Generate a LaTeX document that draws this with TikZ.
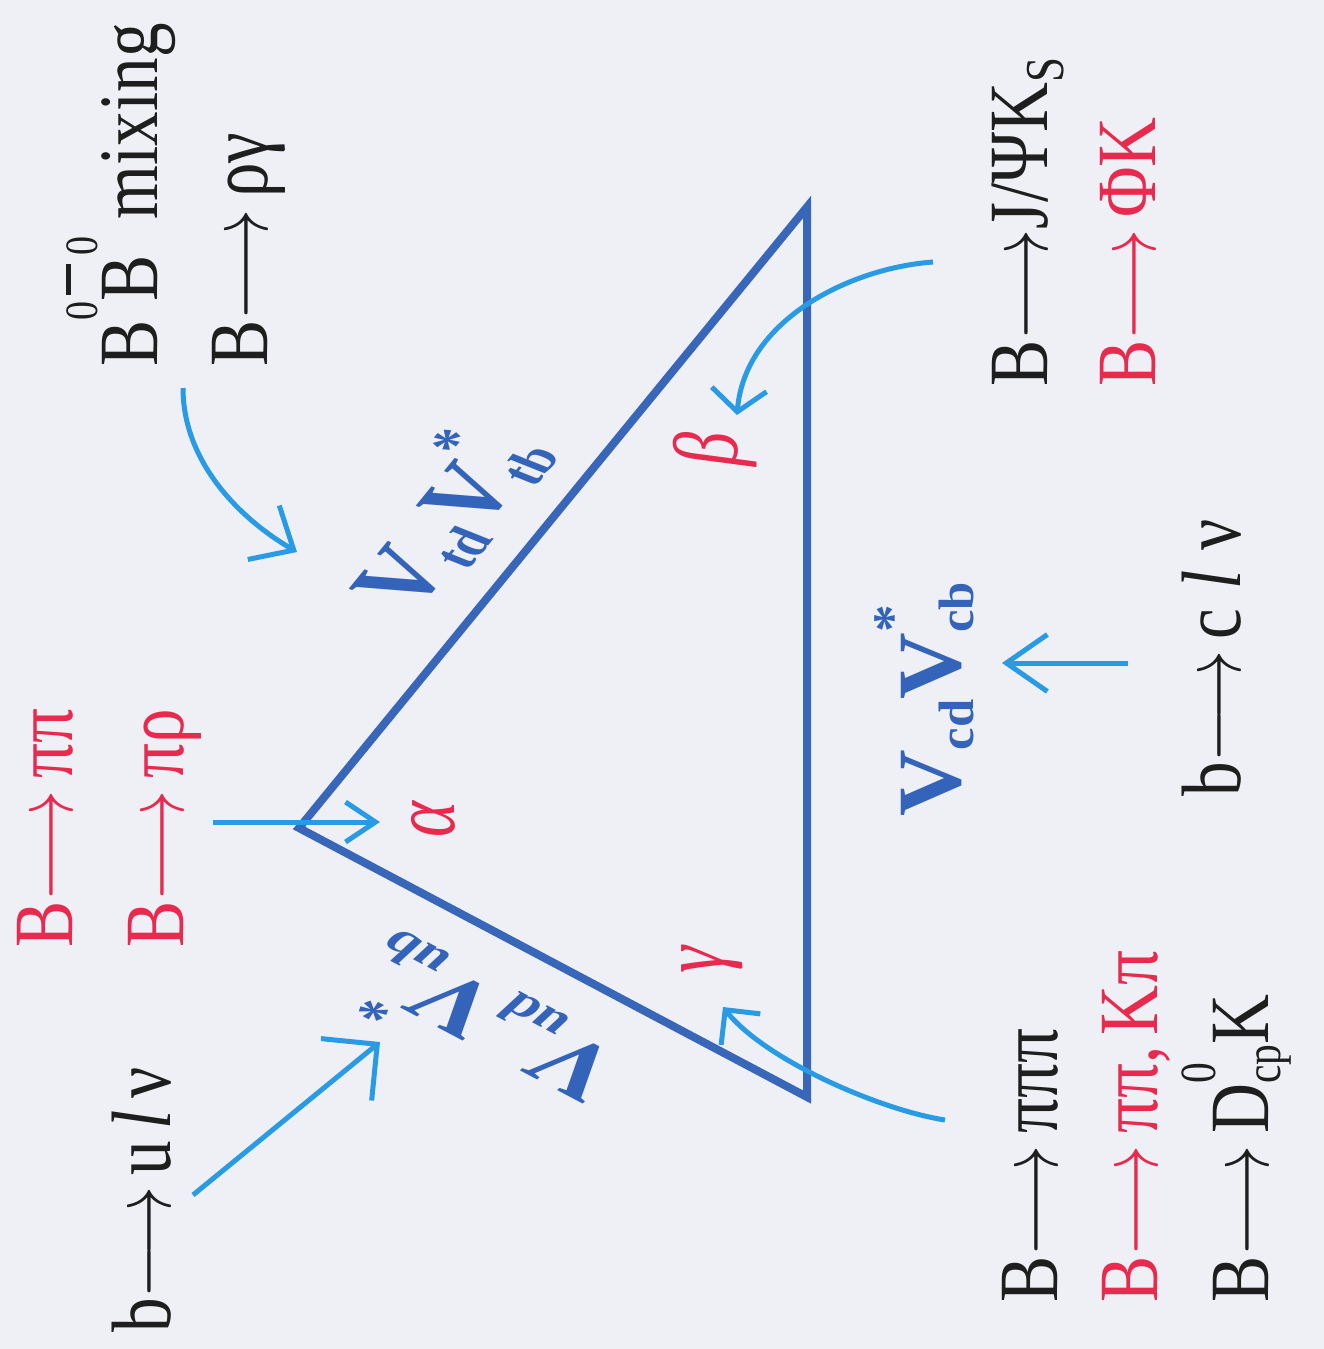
\RequirePackage{fix-cm}
\documentclass[tikz,border=0pt]{standalone}
\usepackage{fontspec}
\setmainfont{Liberation Serif}
\usetikzlibrary{arrows.meta}
\definecolor{bgc}{RGB}{238,240,246}
\definecolor{tri}{RGB}{56,102,184}
\definecolor{arr}{RGB}{40,155,228}
\definecolor{rd}{RGB}{232,42,78}
\definecolor{vb}{RGB}{52,100,185}
\definecolor{ink}{RGB}{30,30,30}
\makeatletter
\newcommand\rs[1]{\fontsize{\fpeval{#1*\f@size}}{\fpeval{#1*\f@size}}\selectfont}
\makeatother
\newcommand\dec{\ensuremath{\longrightarrow}}
\begin{document}
\begin{tikzpicture}[x=0.02cm,y=-0.02cm,
  vt/.style={inner sep=0pt, anchor=base west, yscale=0.82, rotate=90, font=\fontsize{48}{52}\selectfont, text=ink},
  rtxt/.style={text=rd},
  ang/.style={inner sep=0pt, anchor=center, yscale=0.75, rotate=90, font=\fontsize{52}{56}\selectfont\itshape, text=rd},
  vlab/.style={inner sep=0pt, text=vb, font=\fontsize{64}{68}\selectfont\bfseries},
  arw/.style={draw=arr, line width=0.1cm},
  trim/.style={draw=tri, line width=0.16cm, line join=miter}
]
\fill[bgc] (0,0) rectangle (1324,1349);
\useasboundingbox (0,0) rectangle (1324,1349);

% triangle
\coordinate (A) at (299,828);
\coordinate (B) at (807,207);
\coordinate (C) at (807,1097);
\draw[trim] (A) -- (B) -- (C) -- cycle;

% texts
\node[vt] (mix) at (157,367) {B\raisebox{0.7em}{\rs{0.55}0}\rlap{\hspace{0.1em}\rule[1.02em]{0.45em}{0.06em}}B\raisebox{0.7em}{\rs{0.55}0}\ mixing};
\node[vt] (rg) at (267,367) {B\dec\,ργ};
\node[vt,rtxt] (pp1) at (72,948) {B\dec\,ππ};
\node[vt,rtxt] (prho) at (183,948) {B\dec\,πρ};
\node[vt] (ulv) at (170,1333) {b\dec\,u\,\textit{l}\,ν};
\node[vt] (psi) at (1047,387) {B\dec J/ΨK\raisebox{-0.2em}{\rs{0.65}S}};
\node[vt,rtxt] (phik) at (1155,387) {B\dec\,ΦK};
\node[vt,text=vb,yscale=0.66/0.82,font=\fontsize{64}{68}\selectfont\bfseries] (vcb) at (960,817) {V\raisebox{-0.15em}{\rs{0.55}cd}V\rlap{\raisebox{0.55em}{\rs{0.6}*}}\raisebox{-0.15em}{\rs{0.55}cb}};
\node[vt] (clv) at (1240,797) {b\dec\,c\;\textit{l}\;ν};
\node[vt] (ppp) at (1057,1303) {B\dec\,πππ};
\node[vt,rtxt] (ppkp) at (1157,1303) {B\dec\,ππ,\,Kπ};
\node[vt] (dk) at (1268,1303) {B\dec\,D\rlap{\raisebox{0.62em}{\rs{0.6}0}}\raisebox{-0.15em}{\rs{0.6}cp}K};

% angles
\node[ang] (al) at (433,820) {α};
\node[ang] (be) at (715,449) {β};
\node[ang] (ga) at (712,960) {γ};

% side labels
\node[vlab, anchor=center, yscale=0.7, rotate=60.3] (vtd) at (441,517) {V\raisebox{-0.15em}{\rs{0.55}td}V\rlap{\raisebox{0.55em}{\rs{0.6}*}}\raisebox{-0.15em}{\rs{0.55}tb}};
\node[vlab, anchor=center, yscale=0.7, rotate=142.9] (vud) at (482,1025) {V\raisebox{-0.15em}{\rs{0.55}ud}V\rlap{\raisebox{0.55em}{\rs{0.6}*}}\raisebox{-0.15em}{\rs{0.55}ub}};

% arrows
\coordinate (u0) at (193,1195); \coordinate (u1) at (380,1042);
\draw[arw, -{Straight Barb[length=0.8cm,width=1.6cm]}] (u0) -- (u1);
\coordinate (a0) at (213,822); \coordinate (a1) at (380,822);
\draw[arw, -{Straight Barb[length=0.6cm,width=0.8cm]}] (a0) -- (a1);
\coordinate (r0) at (183,388); \coordinate (r1) at (297,552);
\draw[arw, -{Straight Barb[length=0.7cm,width=1.25cm]}] (r0) .. controls (183,460) and (237,517) .. (r1);
\coordinate (b0) at (933,262); \coordinate (b1) at (737,415);
\draw[arw, -{Straight Barb[length=0.45cm,width=1.1cm]}] (b0) .. controls (850,268) and (745,320) .. (b1);
\coordinate (g0) at (945,1120); \coordinate (g1) at (723,1007);
\draw[arw, -{Straight Barb[length=0.5cm,width=1.0cm]}] (g0) .. controls (880,1110) and (765,1060) .. (g1);
\coordinate (c0) at (1128,663); \coordinate (c1) at (1002,663);
\draw[arw, -{Straight Barb[length=0.82cm,width=1.14cm]}] (c0) -- (c1);
\end{tikzpicture}
\end{document}
